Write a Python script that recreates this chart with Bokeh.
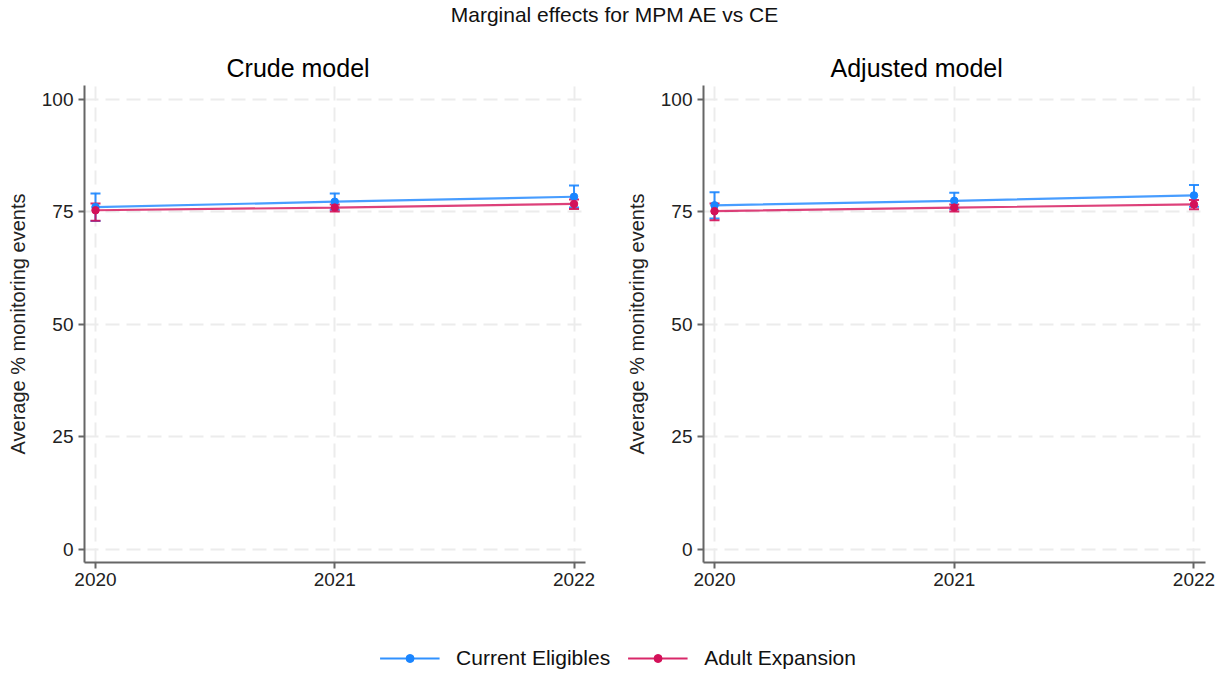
from bokeh.plotting import figure
from bokeh.layouts import column, row
from bokeh.models import (ColumnDataSource, Whisker, TeeHead, Legend, LegendItem,
                          FixedTicker, Range1d)
from bokeh.embed import file_html
from bokeh.resources import INLINE

years = [2020, 2021, 2022]
year_labels = ["2020", "2021", "2022"]
y_ticks = [0, 25, 50, 75, 100]

crude_ce = [76.0, 77.2, 78.3]
crude_ce_lo = [72.9, 75.4, 75.9]
crude_ce_hi = [79.0, 79.0, 80.8]
crude_ae = [75.3, 75.9, 76.7]
crude_ae_lo = [73.0, 75.0, 75.6]
crude_ae_hi = [76.8, 76.6, 77.7]

adj_ce = [76.4, 77.4, 78.6]
adj_ce_lo = [73.5, 75.5, 76.1]
adj_ce_hi = [79.3, 79.2, 80.9]
adj_ae = [75.1, 75.9, 76.6]
adj_ae_lo = [73.1, 75.0, 75.5]
adj_ae_hi = [76.8, 76.6, 77.6]

BLUE = "#1a85ff"
RED = "#d41159"
FONT = "Liberation Sans"
W = 1225


def panel(title, ce, ce_lo, ce_hi, ae, ae_lo, ae_hi, width, left, right, title_off):
    p = figure(width=width, height=560, output_backend="svg", toolbar_location=None,
               x_range=Range1d(2019.954, 2022.048), y_range=Range1d(-2.9, 103.0),
               min_border_left=left, min_border_right=right,
               min_border_top=45, min_border_bottom=38, title=title)
    p.title.align = "left"
    p.title.offset = title_off
    p.title.text_font = FONT
    p.title.text_font_size = "25px"
    p.title.text_font_style = "normal"
    p.title.text_color = "#000000"
    p.title.standoff = 7
    p.outline_line_color = None
    p.background_fill_color = "white"
    p.border_fill_color = "white"

    for ax in (p.xaxis, p.yaxis):
        ax.axis_line_color = "#666666"
        ax.axis_line_width = 2
        ax.major_tick_line_color = "#666666"
        ax.major_tick_line_width = 2
        ax.major_tick_out = 6
        ax.major_tick_in = 0
        ax.minor_tick_line_color = None
        ax.major_label_text_font = FONT
        ax.major_label_text_font_size = "19px"
        ax.major_label_text_color = "#222222"
    p.xaxis.ticker = FixedTicker(ticks=years)
    p.xaxis.major_label_overrides = {y: l for y, l in zip(years, year_labels)}
    p.yaxis.ticker = FixedTicker(ticks=y_ticks)
    p.xaxis.major_label_standoff = 4
    p.yaxis.major_label_standoff = 5
    p.yaxis.axis_label = "Average % monitoring events"
    p.yaxis.axis_label_text_font = FONT
    p.yaxis.axis_label_text_font_size = "20px"
    p.yaxis.axis_label_text_font_style = "normal"
    p.yaxis.axis_label_text_color = "#222222"
    p.yaxis.axis_label_standoff = 10

    for g in (p.xgrid, p.ygrid):
        g.grid_line_color = "#ececec"
        g.grid_line_width = 2
        g.grid_line_dash = "14 7"

    for vals, lo, hi, col in ((ce, ce_lo, ce_hi, BLUE), (ae, ae_lo, ae_hi, RED)):
        src = ColumnDataSource(dict(x=years, y=vals, lo=lo, hi=hi))
        wk = Whisker(source=src, base="x", upper="hi", lower="lo",
                     line_color=col, line_width=2, line_alpha=0.9,
                     upper_head=TeeHead(size=10, line_color=col, line_width=2, line_alpha=0.9),
                     lower_head=TeeHead(size=10, line_color=col, line_width=2, line_alpha=0.9))
        p.add_layout(wk)
        p.line("x", "y", source=src, line_color=col, line_width=2.2, line_alpha=0.8)
        p.scatter("x", "y", source=src, size=7.5, fill_color=col, line_color=col)
    return p


p1 = panel("Crude model", crude_ce, crude_ce_lo, crude_ce_hi,
           crude_ae, crude_ae_lo, crude_ae_hi, 612, 84, 27, 142)
p2 = panel("Adjusted model", adj_ce, adj_ce_lo, adj_ce_hi,
           adj_ae, adj_ae_lo, adj_ae_hi, 613, 91, 20, 127)

head = figure(width=W, height=40, output_backend="svg", toolbar_location=None,
              x_axis_location=None, y_axis_location=None, min_border=0,
              title="Marginal effects for MPM  AE vs CE")
head.title.align = "center"
head.title.text_font = FONT
head.title.text_font_size = "21px"
head.title.text_font_style = "normal"
head.title.text_color = "#111111"
head.title.standoff = 0
head.outline_line_color = None
head.xgrid.visible = False
head.ygrid.visible = False

# Legend strip: the series are plotted in a view that excludes them, so only the legend shows
leg = figure(width=W, height=75, output_backend="svg", toolbar_location=None,
             x_axis_location=None, y_axis_location=None, min_border=0,
             min_border_top=40, min_border_left=10,
             x_range=Range1d(0, 1), y_range=Range1d(0, 1))
leg.outline_line_color = None
leg.xgrid.visible = False
leg.ygrid.visible = False
items = []
for name, vals, col in (("Current Eligibles", crude_ce, BLUE), ("Adult Expansion", crude_ae, RED)):
    s = ColumnDataSource(dict(x=years, y=vals))
    r1 = leg.line("x", "y", source=s, line_color=col, line_width=2.2, line_alpha=0.9)
    r2 = leg.scatter("x", "y", source=s, size=7.5, fill_color=col, line_color=col)
    items.append(LegendItem(label=name, renderers=[r1, r2]))
legend = Legend(items=items, orientation="horizontal", location="center",
                glyph_width=60, glyph_height=20, label_standoff=17, spacing=17,
                label_text_font=FONT, label_text_font_size="21px",
                label_text_color="#111111", border_line_color=None,
                background_fill_alpha=0, padding=0, margin=0)
leg.add_layout(legend, "center")

layout = column(head, row(p1, p2), leg)
open("out.html", "w").write(file_html(layout, INLINE))
